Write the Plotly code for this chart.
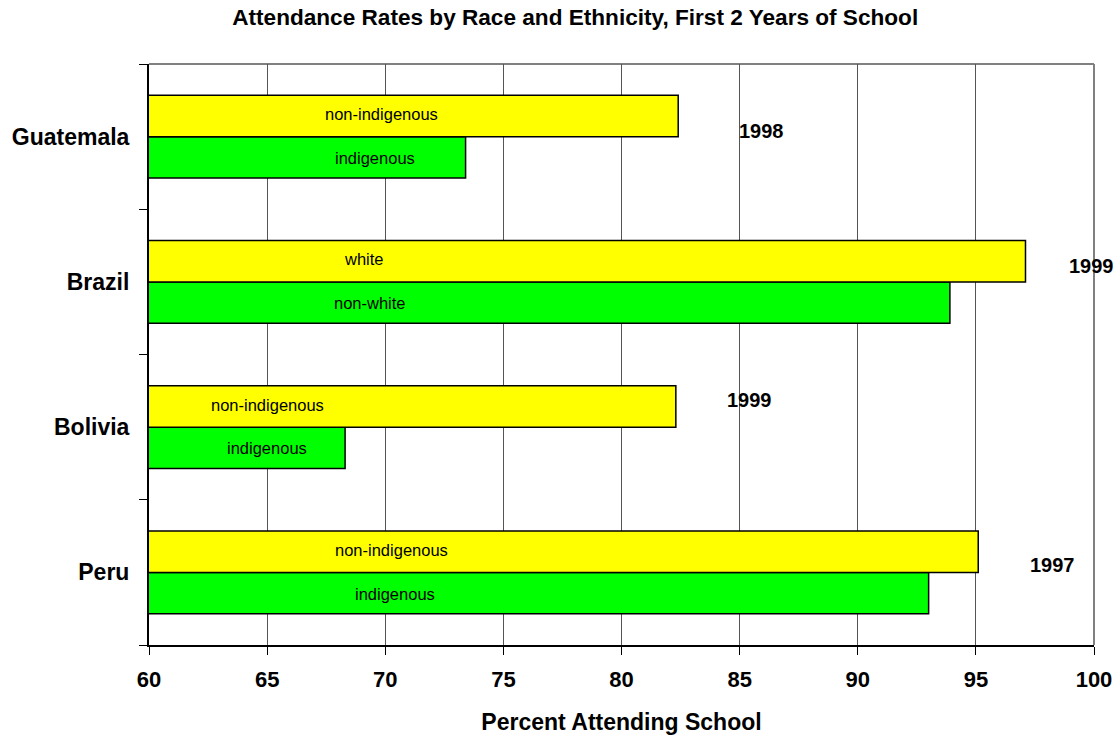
import plotly.graph_objects as go

# Countries listed bottom-to-top as plotted on the category axis
countries = ["Peru", "Bolivia", "Brazil", "Guatemala"]
survey_year = ["1997", "1999", "1999", "1998"]

# Attendance rate (%) for the majority group (yellow) and minority group (green)
majority_rate = [95.1, 82.3, 97.1, 82.4]
minority_rate = [93.0, 68.3, 93.9, 73.4]
majority_label = ["non-indigenous", "non-indigenous", "white", "non-indigenous"]
minority_label = ["indigenous", "indigenous", "non-white", "indigenous"]

x_ticks = [60, 65, 70, 75, 80, 85, 90, 95, 100]

FONT = "Liberation Sans, Arial, sans-serif"

fig = go.Figure()
fig.add_trace(go.Bar(
    y=countries, x=minority_rate, orientation="h", name="minority",
    marker=dict(color="#00FF00", line=dict(color="#000000", width=1.5)),
    hoverinfo="x+y",
))
fig.add_trace(go.Bar(
    y=countries, x=majority_rate, orientation="h", name="majority",
    marker=dict(color="#FFFF00", line=dict(color="#000000", width=1.5)),
    hoverinfo="x+y",
))

# Label placement inside the bars (x in axis units, y offset in category units)
maj_text_x = [70.25, 65.0, 69.1, 69.85]
min_text_x = [70.4, 65.0, 69.35, 69.55]
year_xy = [(98.24, 0.05), (85.4, 1.19), (99.89, 2.11), (85.92, 3.04)]

annotations = []
for i in range(len(countries)):
    annotations.append(dict(x=maj_text_x[i], y=i + 0.155, xref="x", yref="y",
                            text=majority_label[i], showarrow=False,
                            font=dict(family=FONT, size=16.5, color="#000")))
    annotations.append(dict(x=min_text_x[i], y=i - 0.147, xref="x", yref="y",
                            text=minority_label[i], showarrow=False,
                            font=dict(family=FONT, size=16.5, color="#000")))
    annotations.append(dict(x=year_xy[i][0], y=year_xy[i][1], xref="x", yref="y",
                            text="<b>%s</b>" % survey_year[i], showarrow=False,
                            font=dict(family=FONT, size=20, color="#000")))

fig.update_layout(
    width=1118, height=735,
    margin=dict(l=149, r=24, t=64, b=90, autoexpand=False),
    paper_bgcolor="white", plot_bgcolor="white",
    barmode="group", bargap=0.43, bargroupgap=0,
    showlegend=False,
    font=dict(family=FONT, color="#000"),
    title=dict(text="<b>Attendance Rates by Race and Ethnicity, First 2 Years of School</b>",
               x=0.5145, xanchor="center", y=0.977, yanchor="middle",
               font=dict(family=FONT, size=22.6, color="#000")),
    xaxis=dict(range=[60, 100], tickvals=x_ticks, ticktext=[str(v) for v in x_ticks],
               showgrid=True, gridcolor="#555555", gridwidth=1,
               showline=True, linecolor="#000", linewidth=2,
               ticks="outside", ticklen=8, tickcolor="#000", tickwidth=1,
               ticklabelstandoff=6, automargin=False,
               tickfont=dict(family=FONT, size=22, color="#000", weight="bold"),
               title=dict(text="<b>Percent Attending School</b>", standoff=26,
                          font=dict(family=FONT, size=23, color="#000")),
               zeroline=False, fixedrange=True),
    yaxis=dict(categoryorder="array", categoryarray=countries, range=[-0.5, 3.5],
               showgrid=False, showline=True, linecolor="#000", linewidth=2,
               ticks="outside", tickson="boundaries", ticklen=8, tickcolor="#000",
               tickfont=dict(family=FONT, size=23, color="#000", weight="bold"),
               ticklabelstandoff=13, automargin=False, fixedrange=True),
    annotations=annotations,
    shapes=[
        dict(type="line", xref="x domain", yref="y domain", x0=0, x1=1, y0=1, y1=1,
             line=dict(color="#808080", width=2), layer="below"),
        dict(type="line", xref="x domain", yref="y domain", x0=1, x1=1, y0=0, y1=1,
             line=dict(color="#808080", width=2), layer="below"),
    ],
)

fig.write_html("out.html")
